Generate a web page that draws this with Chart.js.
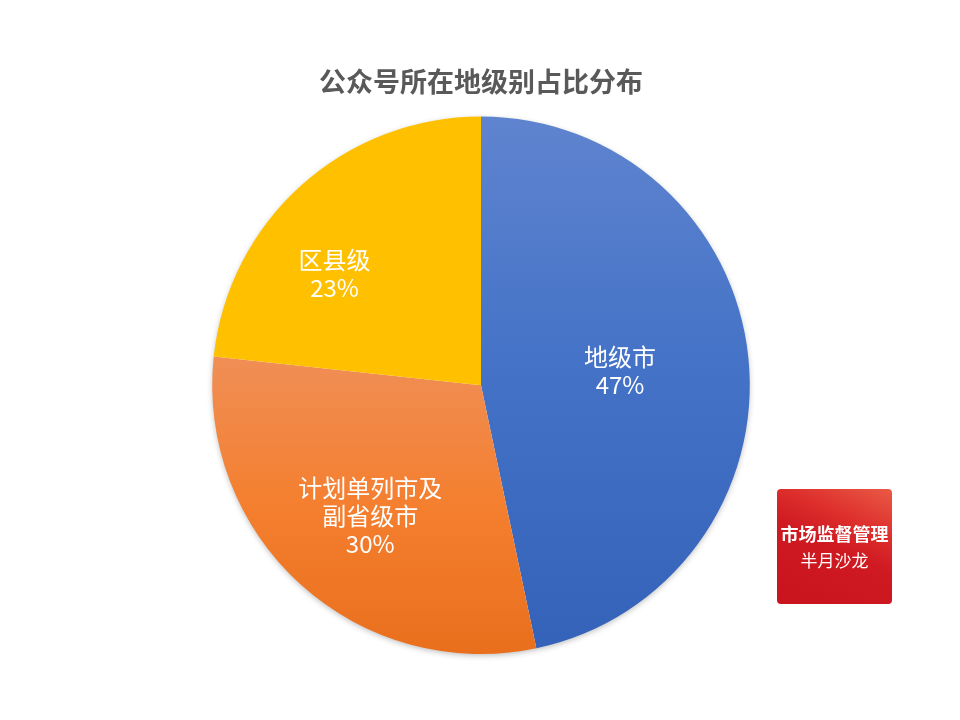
<!DOCTYPE html>
<html>
<head>
<meta charset="utf-8">
<script src="https://cdn.jsdelivr.net/npm/chart.js@4"></script>
<style>
html,body{margin:0;padding:0;background:#fff;}
#wrap{position:relative;width:960px;height:720px;overflow:hidden;}
#pieChart{position:absolute;left:0;top:0;}
.badge{position:absolute;left:777px;top:489px;width:115px;height:115px;border-radius:4px;color:#fff;text-align:center;
  background:linear-gradient(205deg,#ea5a44 0%,#dd2e2c 30%,#cf1a22 50%,#c9131d 100%);
  font-family:"Noto Sans CJK SC",sans-serif;}
.badge .b1{position:absolute;left:0;right:0;top:32px;font-size:18px;line-height:24px;font-weight:700;white-space:nowrap;}
.badge .b2{position:absolute;left:0;right:0;top:60px;font-size:17px;line-height:22px;}
</style>
</head>
<body>
<div id="wrap">
<canvas id="pieChart" width="960" height="720"></canvas>
<div class="badge"><div class="b1">市场监督管理</div><div class="b2">半月沙龙</div></div>
</div>
<script>
const chartTitle = '公众号所在地级别占比分布';
const categories = [['地级市'], ['计划单列市及','副省级市'], ['区县级']];
// shares as printed on the slices
const printedShares = ['47%', '30%', '23%'];
const sliceValues = [46.7, 30, 23.3];
const gradientTop = ['#5f84cf', '#f08e55', '#ffc000'];
const gradientMiddle = ['#4271c6', '#f47f2f', '#ffc000'];
const gradientBottom = ['#3362b8', '#e96f1c', '#ffc000'];

const fontFamily = '"Noto Sans CJK SC", sans-serif';
// where each gradient starts, as a fraction of the pie height (top of that slice)
const gradientStart = [0, 0.45, 0];
// label placement per slice: fraction of radius, angle shift in radians from mid slice
const labelPlace = [[0.52, 0], [0.636, -0.03], [0.684, -0.19]];

function sliceFill(ctx){
  const area = ctx.chart.chartArea;
  const i = ctx.dataIndex;
  if(!area) return gradientBottom[i];
  const h = area.bottom - area.top;
  const g = ctx.chart.ctx.createLinearGradient(0, area.top + h * gradientStart[i], 0, area.bottom);
  g.addColorStop(0, gradientTop[i]);
  g.addColorStop(0.5, gradientMiddle[i]);
  g.addColorStop(1, gradientBottom[i]);
  return g;
}

// soft shadow under the whole pie
const pieShadow = {
  id: 'pieShadow',
  beforeDatasetsDraw(chart){
    const arc = chart.getDatasetMeta(0).data[0];
    const c = chart.ctx;
    c.save();
    c.shadowColor = 'rgba(0,0,0,0.3)';
    c.shadowBlur = 6;
    c.shadowOffsetY = 2;
    c.fillStyle = '#fff';
    c.beginPath();
    c.arc(arc.x, arc.y, arc.outerRadius - 1, 0, Math.PI * 2);
    c.fill();
    c.restore();
  }
};

// writes category + share inside each slice
const sliceLabels = {
  id: 'sliceLabels',
  afterDatasetsDraw(chart){
    const c = chart.ctx;
    const arcs = chart.getDatasetMeta(0).data;
    c.save();
    c.fillStyle = '#fff';
    c.font = '24px ' + fontFamily;
    c.textAlign = 'center';
    c.textBaseline = 'middle';
    arcs.forEach((arc, i)=>{
      const lines = categories[i].concat(printedShares[i]);
      const mid = (arc.startAngle + arc.endAngle) / 2 + labelPlace[i][1];
      const r = arc.outerRadius * labelPlace[i][0];
      const x = arc.x + Math.cos(mid) * r;
      const y = arc.y + Math.sin(mid) * r;
      lines.forEach((t, k)=>{
        c.fillText(t, x, y + (k - (lines.length - 1) / 2) * 28);
      });
    });
    c.restore();
  }
};

new Chart(document.getElementById('pieChart').getContext('2d'), {
  type: 'pie',
  data: {
    labels: categories.map(l => l.join('')),
    datasets: [{ data: sliceValues, backgroundColor: sliceFill, borderWidth: 0 }]
  },
  options: {
    responsive: false,
    animation: false,
    layout: { padding: { left: 2, right: 0, top: 0, bottom: 66 } },
    plugins: {
      legend: { display: false },
      tooltip: { enabled: false },
      title: {
        display: true,
        text: chartTitle,
        color: '#595959',
        font: { family: fontFamily, size: 27, weight: 'bold' },
        padding: { top: 66, bottom: 18 }
      }
    }
  },
  plugins: [pieShadow, sliceLabels]
});
</script>
</body>
</html>
